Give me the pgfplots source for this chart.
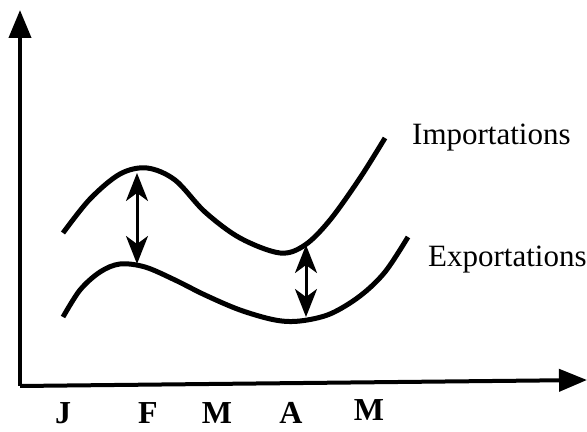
\documentclass[border=0pt]{standalone}
\usepackage{fontspec}
\setmainfont{Liberation Serif}
\usepackage{pgfplots}
\pgfplotsset{compat=1.18}
\usetikzlibrary{arrows.meta}
\begin{document}
\begin{tikzpicture}
\begin{axis}[
  scale only axis, width=587bp, height=432bp,
  xmin=0, xmax=587, ymin=0, ymax=432,
  hide axis, clip=false,
]
% axes
\addplot[black, line width=4bp, -{Triangle[length=28bp,width=22bp]}] coordinates {(20,46) (20,422)};
\addplot[black, line width=4bp, -{Triangle[length=28bp,width=22bp]}] coordinates {(20,46) (587,52)};
% Importations
\addplot[black, line width=5bp, smooth, tension=0.55] coordinates {
(63,199) (90,233) (120,258) (147,264) (175,252) (205,220) (240,194) (280,179)
(305,187) (330,212) (360,254) (385,294)};
% Exportations
\addplot[black, line width=5bp, smooth, tension=0.55] coordinates {
(63,115) (80,142) (100,160) (120,168) (145,165) (175,152) (205,137) (240,122)
(275,112) (300,111) (330,118) (360,136) (385,160) (408,195)};
% double arrows
\addplot[black, line width=3bp, {Stealth[length=28bp,width=22bp,inset=8bp]}-{Stealth[length=28bp,width=22bp,inset=8bp]}] coordinates {(137,168) (137,259)};
\addplot[black, line width=3bp, {Stealth[length=28bp,width=22bp,inset=8bp]}-{Stealth[length=28bp,width=22bp,inset=8bp]}] coordinates {(306,115) (306,187)};
% labels
\node[anchor=base west, inner sep=0pt, font=\fontsize{31bp}{36bp}\selectfont] at (axis cs:412,287) {Importations};
\node[anchor=base west, inner sep=0pt, font=\fontsize{31bp}{36bp}\selectfont] at (axis cs:428,165) {Exportations};
\node[anchor=base, inner sep=0pt, font=\fontsize{32bp}{36bp}\selectfont\bfseries] at (axis cs:63,9) {J};
\node[anchor=base, inner sep=0pt, font=\fontsize{32bp}{36bp}\selectfont\bfseries] at (axis cs:148,9) {F};
\node[anchor=base, inner sep=0pt, font=\fontsize{32bp}{36bp}\selectfont\bfseries] at (axis cs:217,9) {M};
\node[anchor=base, inner sep=0pt, font=\fontsize{32bp}{36bp}\selectfont\bfseries] at (axis cs:291,9) {A};
\node[anchor=base, inner sep=0pt, font=\fontsize{32bp}{36bp}\selectfont\bfseries] at (axis cs:369,12) {M};
\end{axis}
\pgfresetboundingbox
\path (0,0) rectangle (587bp,432bp);
\end{tikzpicture}
\end{document}
